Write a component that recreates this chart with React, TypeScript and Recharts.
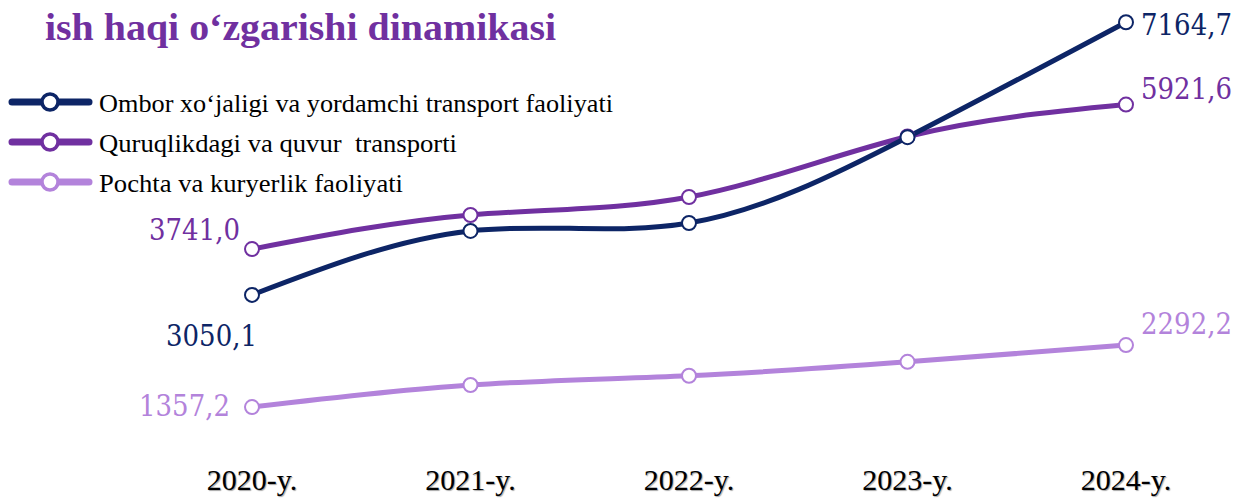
import { LineChart, Line, XAxis, YAxis } from "recharts"

const years = ["2020-y.", "2021-y.", "2022-y.", "2023-y.", "2024-y."]
const omborValues = [3050.1, 4015, 4135, 5430, 7164.7]
const quruqlikValues = [3741.0, 4256, 4527, 5440, 5921.6]
const pochtaValues = [1357.2, 1690, 1830, 2040, 2292.2]

const seriesNames = [
  "Ombor xo‘jaligi va yordamchi transport faoliyati",
  "Quruqlikdagi va quvur  transporti",
  "Pochta va kuryerlik faoliyati",
]
const legendWidths = [514, 358, 304]

const DARK = "#0D2566"
const PURPLE = "#7030A0"
const LIGHT = "#B383DB"

const data = years.map((year, i) => ({
  year,
  ombor: omborValues[i],
  quruqlik: quruqlikValues[i],
  pochta: pochtaValues[i],
}))

const fmt = (v: number) => v.toFixed(1).replace(".", ",")

type EndLabel = { dx: number; dy: number; anchor: "start" | "end" }

// dot with the value written next to the first and last point
function makeDot(color: string, first: EndLabel, last: EndLabel) {
  return (props: any) => {
    const { cx, cy, value, index } = props
    let cfg: EndLabel | null = null
    if (index === 0) cfg = first
    if (index === years.length - 1) cfg = last
    const v = Array.isArray(value) ? value[1] : value
    return (
      <g key={`dot-${color}-${index}`}>
        <circle cx={cx} cy={cy} r={7} fill="#fff" stroke={color} strokeWidth={2} />
        {cfg && (
          <text
            x={cx + cfg.dx}
            y={cy + cfg.dy}
            textAnchor={cfg.anchor}
            fill={color}
            fontSize={29}
            fontFamily="DejaVu Serif"
            textLength={91}
            lengthAdjust="spacingAndGlyphs"
          >
            {fmt(v)}
          </text>
        )}
      </g>
    )
  }
}

const YearTick = (props: any) => {
  const { x, payload } = props
  return (
    <text
      x={x}
      y={490}
      textAnchor="middle"
      fill="#000"
      fontSize={30}
      fontFamily="Liberation Serif"
      style={{ textShadow: "1px 1px 1px rgba(0,0,0,0.35)" }}
    >
      {payload.value}
    </text>
  )
}

const legendColors = [DARK, PURPLE, LIGHT]
const legendRows = [102, 142, 182]

export default function App() {
  return (
    <div style={{ position: "relative", width: 1238, height: 498, background: "#fff" }}>
      <style>{`body{margin:0}`}</style>

      <LineChart
        width={1238}
        height={498}
        data={data}
        margin={{ top: 0, right: 0, bottom: 0, left: 0 }}
      >
        <XAxis
          dataKey="year"
          axisLine={false}
          tickLine={false}
          height={1}
          padding={{ left: 252, right: 112 }}
          tick={<YearTick />}
          interval={0}
        />
        <YAxis hide domain={[0, 7500]} width={0} />

        <Line
          type="natural"
          dataKey="pochta"
          stroke={LIGHT}
          strokeWidth={5}
          dot={makeDot(
            LIGHT,
            { dx: -22, dy: 9, anchor: "end" },
            { dx: 15, dy: -11, anchor: "start" }
          )}
          activeDot={false}
          isAnimationActive={false}
        />
        <Line
          type="natural"
          dataKey="quruqlik"
          stroke={PURPLE}
          strokeWidth={5}
          dot={makeDot(
            PURPLE,
            { dx: -12, dy: -9, anchor: "end" },
            { dx: 15, dy: -6, anchor: "start" }
          )}
          activeDot={false}
          isAnimationActive={false}
        />
        <Line
          type="natural"
          dataKey="ombor"
          stroke={DARK}
          strokeWidth={5}
          dot={makeDot(
            DARK,
            { dx: 5, dy: 51, anchor: "end" },
            { dx: 15, dy: 13, anchor: "start" }
          )}
          activeDot={false}
          isAnimationActive={false}
        />
      </LineChart>

      <svg
        width={1238}
        height={498}
        style={{ position: "absolute", left: 0, top: 0, pointerEvents: "none" }}
      >
        <text
          x={45}
          y={40}
          fill={PURPLE}
          fontSize={37}
          fontWeight="bold"
          fontFamily="Liberation Serif"
          textLength={511}
          lengthAdjust="spacingAndGlyphs"
        >
          ish haqi o‘zgarishi dinamikasi
        </text>

        {seriesNames.map((name, i) => (
          <g key={name}>
            <line
              x1={12}
              x2={89}
              y1={legendRows[i]}
              y2={legendRows[i]}
              stroke={legendColors[i]}
              strokeWidth={7}
              strokeLinecap="round"
            />
            <circle
              cx={50}
              cy={legendRows[i]}
              r={8}
              fill="#fff"
              stroke={legendColors[i]}
              strokeWidth={3.5}
            />
            <text
              x={99}
              y={legendRows[i] + 10}
              fill="#000"
              fontSize={25}
              fontFamily="Liberation Serif"
              textLength={legendWidths[i]}
              lengthAdjust="spacingAndGlyphs"
              style={{ whiteSpace: "pre" }}
            >
              {name}
            </text>
          </g>
        ))}
      </svg>
    </div>
  )
}
